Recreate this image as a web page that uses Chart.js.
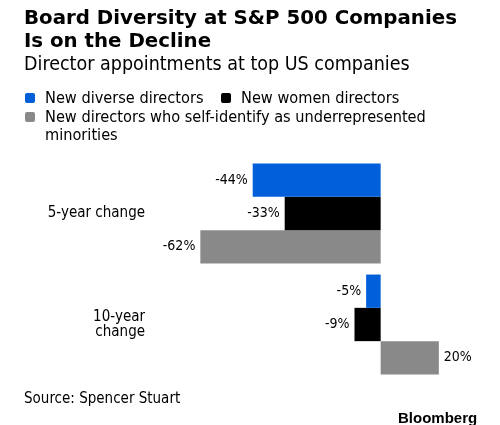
<!DOCTYPE html>
<html>
<head>
<meta charset="utf-8">
<script src="https://cdn.jsdelivr.net/npm/chart.js@4"></script>
<style>
  html, body { margin: 0; padding: 0; background: #fff; }
  #wrap { position: relative; width: 500px; height: 425px; overflow: hidden; }
  #chart { position: absolute; left: 0; top: 0; }
  .txt { position: absolute; white-space: nowrap; color: #000; }
  #title { left: 24px; top: 6px; font: bold 19.8px "DejaVu Sans"; line-height: 23px; }
  #subtitle { left: 24px; top: 52px; font: 19.5px "DejaVu Sans Condensed"; }
  .leg { position: absolute; white-space: nowrap; font: 16.2px "DejaVu Sans Condensed"; line-height: 18px; }
  .sw { position: absolute; left: 0; top: 4px; width: 10px; height: 10px; border-radius: 2px; }
  .leg span.t { position: absolute; left: 20px; top: 0; }
  #source { left: 24px; top: 389px; font: 15px "DejaVu Sans Condensed"; }
  #logo { left: 398px; top: 409px; font: bold 15px "Liberation Sans"; }
</style>
</head>
<body>
<div id="wrap">
  <canvas id="chart" width="500" height="425"></canvas>
  <div class="txt" id="title">Board Diversity at S&amp;P 500 Companies<br>Is on the Decline</div>
  <div class="txt" id="subtitle">Director appointments at top US companies</div>
  <div id="legend"></div>
  <div class="txt" id="source">Source: Spencer Stuart</div>
  <div class="txt" id="logo">Bloomberg</div>
</div>
<script>
const categories = [["5-year change"], ["10-year", "change"]]
const seriesNames = ["New diverse directors", "New women directors", "New directors who self-identify as underrepresented minorities"]
const diverse = [-44, -5]
const women = [-33, -9]
const minorities = [-62, 20]
const colors = ["#005fd9", "#000000", "#898989"]

// html legend, the third entry wraps onto two lines
const legendPos = [[25, 89], [221, 89], [25, 108]]
const legendEl = document.getElementById("legend")
seriesNames.forEach((name, i) => {
    const d = document.createElement("div")
    d.className = "leg"
    d.style.left = legendPos[i][0] + "px"
    d.style.top = legendPos[i][1] + "px"
    const label = i === 2 ? "New directors who self-identify as underrepresented<br>minorities" : name
    d.innerHTML = '<span class="sw" style="background:' + colors[i] + '"></span><span class="t">' + label + '</span>'
    legendEl.appendChild(d)
})

// value labels at the end of each bar
const valueLabels = {
    id: "valueLabels",
    afterDatasetsDraw(chart) {
        const ctx = chart.ctx
        ctx.save()
        ctx.font = '14px "DejaVu Sans Condensed"'
        ctx.fillStyle = "#000"
        ctx.textBaseline = "middle"
        chart.data.datasets.forEach((ds, di) => {
            const meta = chart.getDatasetMeta(di)
            meta.data.forEach((bar, i) => {
                const v = ds.data[i]
                if (v < 0) {
                    ctx.textAlign = "right"
                    ctx.fillText(v + "%", bar.x - 5, bar.y)
                } else {
                    ctx.textAlign = "left"
                    ctx.fillText(v + "%", bar.x + 5, bar.y)
                }
            })
        })
        ctx.restore()
    }
}

const datasets = [diverse, women, minorities].map((data, i) => ({
    label: seriesNames[i],
    data: data,
    backgroundColor: colors[i],
    borderWidth: 0,
    barPercentage: 1.0,
    categoryPercentage: 0.9
}))

new Chart(document.getElementById("chart"), {
    type: "bar",
    data: { labels: categories, datasets: datasets },
    plugins: [valueLabels],
    options: {
        indexAxis: "y",
        responsive: false,
        animation: false,
        events: [],
        layout: { padding: { top: 158, bottom: 45, left: 0, right: 3 } },
        plugins: { legend: { display: false }, tooltip: { enabled: false } },
        scales: {
            x: { display: false, min: -80, max: 40 },
            y: {
                afterFit(scale) { scale.width = 148 },
                grid: { display: false, drawTicks: false },
                border: { display: false },
                ticks: {
                    color: "#000",
                    padding: 3,
                    font: { family: "DejaVu Sans Condensed", size: 15, lineHeight: 1.05 }
                }
            }
        }
    }
})
</script>
</body>
</html>
